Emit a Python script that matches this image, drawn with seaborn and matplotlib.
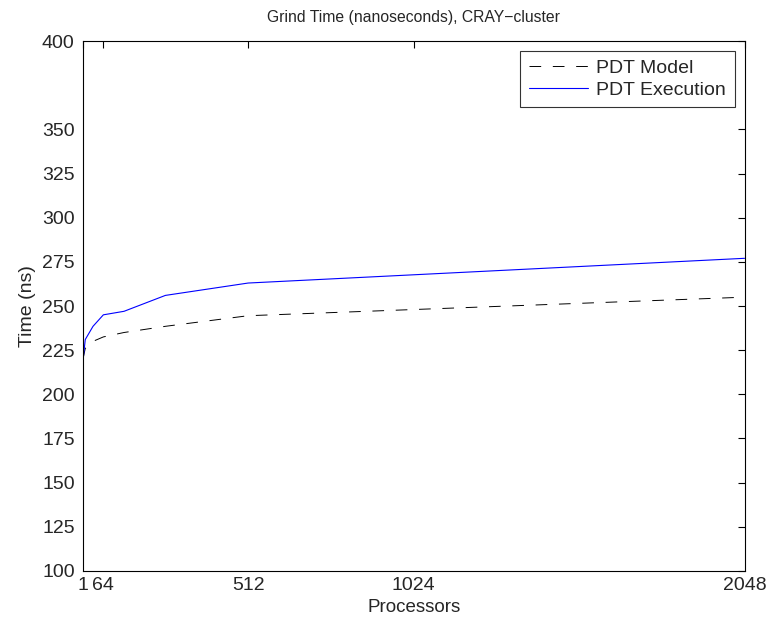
import matplotlib
matplotlib.use("Agg")
import matplotlib.pyplot as plt
import seaborn as sns
import pandas as pd

processors = [1, 8, 32, 64, 128, 256, 512, 2048]
pdt_model = [220, 226, 230, 232.5, 235, 238.5, 244.5, 255]
pdt_execution = [219, 231, 238.5, 245, 247, 256, 263, 277]
x_ticks = [1, 64, 512, 1024, 2048]
y_ticks = [100, 125, 150, 175, 200, 225, 250, 275, 300, 325, 350, 400]

sns.set_style("white")
plt.rcParams['font.family'] = ['Liberation Sans', 'DejaVu Sans']
plt.rcParams['xtick.direction'] = 'in'
plt.rcParams['ytick.direction'] = 'in'

df_model = pd.DataFrame({"Processors": processors, "Time": pdt_model})
df_exec = pd.DataFrame({"Processors": processors, "Time": pdt_execution})

fig = plt.figure(figsize=(7.67, 6.17), dpi=100)
ax = fig.add_axes([0.1082, 0.0746, 0.8625, 0.8589])

sns.lineplot(data=df_model, x="Processors", y="Time", ax=ax, color="black",
             linewidth=0.7, linestyle=(0, (12, 12)), label="PDT Model")
sns.lineplot(data=df_exec, x="Processors", y="Time", ax=ax, color="blue",
             linewidth=0.8, label="PDT Execution")

ax.set_xlim(1, 2048)
ax.set_ylim(100, 400)
ax.set_xticks(x_ticks)
ax.set_xticklabels([str(t) for t in x_ticks])
ax.set_yticks(y_ticks)
ax.set_yticklabels([str(t) for t in y_ticks])
ax.tick_params(axis='both', which='both', labelsize=14, length=5, width=0.8,
               top=True, right=True, color='black')
ax.tick_params(axis='y', pad=6)
ax.tick_params(axis='x', pad=4)
for s in ax.spines.values():
    s.set_visible(True)
    s.set_color('black')
    s.set_linewidth(0.8)

ax.set_xlabel("Processors", fontsize=13.5, labelpad=4)
ax.set_ylabel("Time (ns)", fontsize=14, labelpad=4)
ax.set_title("Grind Time (nanoseconds), CRAY\u2212cluster", fontsize=11.3, pad=14)

leg = ax.legend(loc="upper right", fontsize=14, frameon=True, fancybox=False,
                edgecolor='black', handlelength=3.0, borderpad=0.45,
                labelspacing=0.2, handletextpad=0.45, borderaxespad=0.5)
leg.get_frame().set_linewidth(0.8)

fig.savefig("out.png", dpi=100)
